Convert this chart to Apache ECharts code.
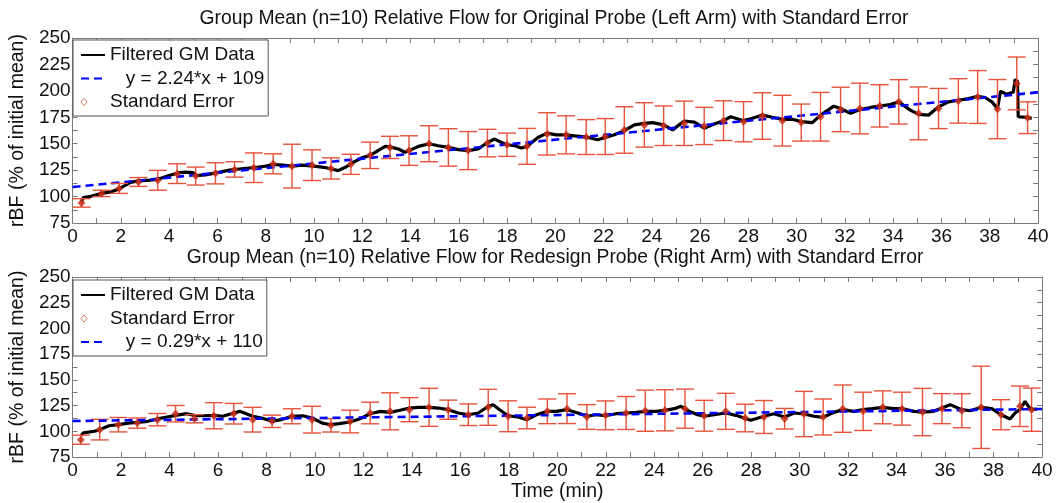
<!DOCTYPE html>
<html>
<head>
<meta charset="utf-8">
<script src="https://cdn.jsdelivr.net/npm/echarts@6/dist/echarts.min.js"></script>
<style>
  html, body { margin: 0; padding: 0; background: #fff; }
  #chart { width: 1061px; height: 503px; }
</style>
</head>
<body>
<div id="chart"></div>
<script>
// ---- top panel: Original Probe (Left Arm) ----
var gmTopT = [0.35, 0.45, 0.8, 1.2, 1.6, 1.9, 2.4, 2.73, 3.2, 3.5, 4.0, 4.4, 4.7, 5.0, 5.1, 5.5, 6.0, 6.5, 7.0, 7.5,
  8.0, 8.3, 8.7, 9.1, 9.5, 10.0, 10.4, 10.7, 11.0, 11.3, 11.6, 11.98, 12.33, 12.67, 12.95, 13.15, 13.5, 13.77, 13.94, 14.33,
  14.77, 15.15, 15.57, 15.98, 16.39, 16.8, 17.19, 17.49, 17.77, 18.0, 18.32, 18.6, 18.83, 19.28, 19.66, 20.04, 20.45, 20.8, 21.28, 21.76,
  22.07, 22.45, 22.86, 23.28, 23.69, 24.03, 24.49, 24.86, 25.34, 25.76, 26.17, 26.58, 26.97, 27.27, 27.8, 28.17, 28.58, 28.99, 29.41, 29.82,
  30.19, 30.65, 30.99, 31.54, 31.82, 32.23, 32.62, 33.06, 33.44, 33.88, 34.23, 34.71, 35.05, 35.47, 35.88, 36.29, 36.7, 37.12, 37.5, 37.81,
  38.09, 38.32, 38.45, 38.7, 38.98, 39.05, 39.15, 39.18, 39.53, 39.74];
var gmTopV = [95, 99, 100.5, 103, 104.5, 107, 113.5, 114.8, 115.6, 116.2, 120, 122.6, 123.2, 122.6, 119.8, 120.5, 122.6, 125, 126.3, 127.3,
  128.8, 130.4, 129.7, 128.8, 129.7, 128.8, 127.7, 126.3, 124.5, 127.7, 132, 136.6, 139, 143.8, 147.5, 147, 145, 141.9, 143.5, 147.5,
  150, 148.1, 146.5, 144.4, 143.5, 145, 151.2, 154.4, 151.2, 149, 148.1, 146, 147.5, 155.9, 160, 158.4, 158.4, 157.5, 156.3, 153.7,
  155.9, 158.4, 162.4, 167.8, 169.3, 169.9, 167.8, 163.1, 171.5, 170.4, 164.7, 168.7, 171.8, 175.5, 171.8, 174, 177.1, 175, 173.1, 173.1,
  170.9, 169.9, 177.1, 185.5, 183.3, 178.7, 182.4, 184.3, 185.5, 187.1, 189.6, 181.8, 177.7, 177.1, 184.9, 189.6, 191.1, 192.7, 194.9, 193.7,
  189.6, 183.3, 199.8, 196.7, 198.9, 210.7, 209, 175.5, 175, 174];
var seTopT = [0.37, 1.2, 1.93, 2.73, 3.53, 4.33, 5.1, 5.92, 6.71, 7.51, 8.31, 9.09, 9.92, 10.71, 11.53, 12.33, 13.15, 13.94, 14.77, 15.57,
  16.39, 17.19, 18.0, 18.83, 19.66, 20.45, 21.28, 22.07, 22.86, 23.69, 24.49, 25.34, 26.17, 26.97, 27.8, 28.58, 29.41, 30.19, 30.99, 31.82,
  32.62, 33.44, 34.23, 35.05, 35.88, 36.7, 37.5, 38.32, 39.12, 39.57];
var seTopMean = [94, 103, 107.7, 113.8, 115.4, 121.7, 119.4, 122, 125.7, 127.3, 131, 128.8, 129.7, 126.6, 130.5, 139, 146.5, 143.5, 150, 146.5,
  143.5, 150.6, 149, 147.5, 159.3, 158.4, 156.3, 156.8, 163, 167.8, 167, 169.3, 166.8, 171.8, 170.8, 176.2, 171.8, 170, 175.5, 182.4,
  183.3, 185.8, 189.6, 178.7, 183.3, 190.5, 194.2, 182.7, 207, 174.6];
var seTopErr = [4, 3, 4.7, 4.2, 9.4, 9.3, 8.5, 10, 7.3, 14, 9.5, 20.7, 14.5, 10, 9.5, 12.5, 10.5, 14, 17, 17.7,
  18, 13, 11, 17, 20, 18, 16.5, 17, 22, 21, 18.7, 21, 17.6, 18.8, 19, 22, 24, 17.5, 23, 21,
  24, 20, 21, 25, 19, 21, 25, 28, 25, 15];
var fitTop = { slope: 2.24, intercept: 109, label: 'y = 2.24*x + 109' };

// ---- bottom panel: Redesign Probe (Right Arm) ----
var gmBotT = [0.35, 0.45, 0.9, 1.12, 1.5, 1.89, 2.3, 2.67, 3.1, 3.5, 3.9, 4.25, 4.7, 5.03, 5.4, 5.83, 6.2, 6.65, 6.9, 7.43,
  7.8, 8.23, 8.6, 9.05, 9.5, 9.88, 10.3, 10.66, 11.0, 11.45, 11.86, 12.28, 12.69, 13.1, 13.51, 13.9, 14.27, 14.71, 15.09, 15.5,
  15.91, 16.33, 16.74, 17.15, 17.35, 17.62, 17.97, 18.38, 18.75, 19.14, 19.59, 19.96, 20.4, 20.85, 21.22, 21.6, 21.99, 22.43, 22.84, 23.25,
  23.63, 24.07, 24.44, 24.83, 25.1, 25.44, 25.79, 26.06, 26.47, 26.95, 27.37, 27.98, 28.53, 28.94, 29.38, 29.77, 30.18, 30.59, 30.97, 31.41,
  31.78, 32.23, 32.62, 32.99, 33.43, 33.88, 34.22, 34.71, 35.07, 35.53, 35.87, 36.21, 36.69, 37.04, 37.49, 37.93, 38.31, 38.68, 38.89, 39.09,
  39.3, 39.44, 39.57, 39.78];
var gmBotV = [96, 98.4, 100, 101.6, 105.4, 106.4, 108, 108.6, 109.7, 112, 113.9, 115.5, 117.1, 115.5, 115.1, 115.5, 114.6, 117.8, 119.4, 114.6,
  112.9, 109.7, 111.3, 114.6, 115.1, 112.9, 108, 106.4, 107.4, 109, 112.2, 117.1, 119.4, 118.4, 120.4, 122.6, 123.3, 123.3, 122.6, 121,
  117.8, 116.1, 117.8, 124.3, 125.9, 121, 115.1, 113.9, 111.3, 116.1, 119.4, 119.4, 121, 117.8, 114.6, 116.1, 115.1, 117.1, 117.8, 118.4,
  119.4, 119.4, 120.4, 122, 124.3, 119.4, 116.1, 114.6, 116.1, 117.8, 115.5, 110.7, 114.6, 117.1, 113.9, 117.8, 116.8, 114.6, 113.6, 118.4,
  121, 119.4, 121, 122, 123.3, 122, 122, 119.4, 118.7, 119.4, 122.6, 125.9, 121, 120, 123.3, 122, 116.1, 112, 117.8, 121,
  129.1, 124.3, 121, 121.5];
var seBotT = [0.34, 1.12, 1.89, 2.67, 3.5, 4.25, 5.03, 5.83, 6.65, 7.43, 8.23, 9.05, 9.88, 10.66, 11.45, 12.28, 13.1, 13.9, 14.71, 15.5,
  16.33, 17.15, 17.97, 18.75, 19.59, 20.4, 21.22, 21.99, 22.84, 23.63, 24.44, 25.27, 26.06, 26.95, 27.75, 28.53, 29.38, 30.18, 30.97, 31.78,
  32.62, 33.43, 34.22, 35.07, 35.87, 36.69, 37.49, 38.31, 39.09, 39.57];
var seBotMean = [91.8, 101.6, 106.4, 108, 111.3, 117.1, 112.2, 115.1, 117.1, 111.3, 109.7, 114.6, 111.3, 105.8, 109.5, 117.8, 119.4, 121, 123.3, 121,
  116.1, 123.3, 114.6, 112.9, 119.4, 122, 113.9, 115.5, 117.8, 120, 120.4, 122, 115.1, 119.4, 112.9, 113.9, 112.2, 116.8, 113.9, 122,
  119.4, 123.3, 122, 118.7, 122, 120, 123.3, 116.1, 124.3, 121];
var seBotErr = [4.4, 10, 7, 5, 6, 8, 4, 12.7, 10, 12, 6, 7.3, 13, 6.5, 11, 10.5, 18, 11.7, 18.5, 9.3,
  10.5, 17.5, 15, 10.5, 12, 14.5, 12, 14, 16, 20, 20, 19, 15, 17.5, 13.4, 16, 10, 22, 17.5, 23,
  18.6, 16, 16, 23, 14.6, 16.5, 40, 14.6, 19.7, 21];
var fitBot = { slope: 0.29, intercept: 110, label: 'y = 0.29*x + 110' };

var titles = [
  'Group Mean (n=10) Relative Flow for Original Probe (Left Arm) with Standard Error',
  'Group Mean (n=10) Relative Flow for Redesign Probe (Right Arm) with Standard Error'
];
var xTicks = { min: 0, max: 40, step: 2 };
var yTicks = { min: 75, max: 250, step: 25 };

var FONT = '"Liberation Sans", Arial, sans-serif';
var FRAME = '#7a7a7a';
var ERR = '#e6523a';
// small open diamond at the left of the legend key area (the trailing point only widens the box)
var SE_ICON = 'path://M0,4L3,0.4L6,4L3,7.6ZM24,4L24,4.01';

function pairs(t, v) { return t.map(function (x, i) { return [x, v[i]]; }); }
function seRows(t, m, e) { return t.map(function (x, i) { return [x, m[i], e[i]]; }); }
function fitLine(f) { return [[xTicks.min, f.intercept], [xTicks.max, f.intercept + f.slope * xTicks.max]]; }

function errRender(params, api) {
  var x = api.value(0), m = api.value(1), e = api.value(2);
  var hi = api.coord([x, m + e]), lo = api.coord([x, m - e]);
  var w = 9;
  var st = { stroke: ERR, lineWidth: 1.4 };
  return { type: 'group', children: [
    { type: 'line', shape: { x1: hi[0], y1: hi[1], x2: lo[0], y2: lo[1] }, style: st },
    { type: 'line', shape: { x1: hi[0] - w, y1: hi[1], x2: hi[0] + w, y2: hi[1] }, style: st },
    { type: 'line', shape: { x1: lo[0] - w, y1: lo[1], x2: lo[0] + w, y2: lo[1] }, style: st }
  ]};
}

function xAxis(grid, pos, labels, name) {
  return {
    type: 'value', gridIndex: grid, position: pos, min: xTicks.min, max: xTicks.max, interval: xTicks.step,
    name: name || '', nameLocation: 'middle', nameGap: 25,
    nameTextStyle: { fontSize: 19.5, fontFamily: FONT, color: '#111' },
    axisLine: { show: true, onZero: false, lineStyle: { color: FRAME, width: 1 } },
    axisTick: { show: true, inside: true, length: 5, lineStyle: { color: FRAME } },
    minorTick: { show: true, splitNumber: 2, length: 5, lineStyle: { color: FRAME } },
    axisLabel: { show: labels, color: '#111', fontSize: 19, fontFamily: FONT, margin: 4 },
    splitLine: { show: false }
  };
}
function yAxis(grid, pos, labels) {
  return {
    type: 'value', gridIndex: grid, position: pos, min: yTicks.min, max: yTicks.max, interval: yTicks.step,
    name: labels ? 'rBF (% of initial mean)' : '', nameLocation: 'middle', nameGap: 36,
    nameTextStyle: { fontSize: 19.5, fontFamily: FONT, color: '#111' },
    axisLine: { show: true, onZero: false, lineStyle: { color: FRAME, width: 1 } },
    axisTick: { show: true, inside: true, length: 5, lineStyle: { color: FRAME } },
    minorTick: { show: true, splitNumber: 2, length: 5, lineStyle: { color: FRAME } },
    axisLabel: { show: labels, color: '#111', fontSize: 19, fontFamily: FONT, margin: 2 },
    splitLine: { show: false }
  };
}

function legendBox(top, names) {
  return {
    left: 73, top: top, orient: 'vertical',
    backgroundColor: '#fff', borderColor: '#555', borderWidth: 1, borderRadius: 0,
    padding: [5, 4, 4, 7], itemGap: 3.5, itemWidth: 24, itemHeight: 8,
    textStyle: { fontSize: 19, fontFamily: FONT, color: '#111', lineHeight: 20 },
    formatter: function (n) { return n.charAt(0) === 'y' ? '   ' + n : n; },
    data: names.map(function (n) {
      return n === 'Standard Error'
        ? { name: n, icon: SE_ICON, itemStyle: { color: '#fff', borderColor: '#c8603f', borderWidth: 1 } }
        : { name: n, itemStyle: { opacity: 0 } };
    })
  };
}

function panelSeries(k, gmT, gmV, seT, seM, seE, fit, fitOnTop) {
  return [
    { name: 'Filtered GM Data', type: 'line', xAxisIndex: 2 * k, yAxisIndex: 2 * k, data: pairs(gmT, gmV),
      symbol: 'none', lineStyle: { color: '#000', width: 3.2 }, itemStyle: { color: '#000' }, z: 2 },
    { name: 'se' + k, type: 'custom', xAxisIndex: 2 * k, yAxisIndex: 2 * k, data: seRows(seT, seM, seE),
      renderItem: errRender, encode: { x: 0, y: 1 }, z: 6 },
    { name: 'Standard Error', type: 'scatter', xAxisIndex: 2 * k, yAxisIndex: 2 * k, data: pairs(seT, seM),
      symbol: 'diamond', symbolSize: 8, itemStyle: { color: '#c42a14' }, z: 10 },
    { name: fit.label, type: 'line', xAxisIndex: 2 * k, yAxisIndex: 2 * k, data: fitLine(fit),
      symbol: 'none', lineStyle: { color: '#0000ff', width: 2.6, type: [8, 5] }, itemStyle: { color: '#0000ff' },
      z: fitOnTop ? 8 : 4 }
  ];
}

var chart = echarts.init(document.getElementById('chart'), null, { renderer: 'canvas' });
chart.setOption({
  backgroundColor: '#fff',
  animation: false,
  title: [
    { text: titles[0], left: 549, textAlign: 'center', top: 4, textStyle: { fontSize: 19.3, fontWeight: 'normal', fontFamily: FONT, color: '#111' } },
    { text: titles[1], left: 550, textAlign: 'center', top: 243, textStyle: { fontSize: 19.3, fontWeight: 'normal', fontFamily: FONT, color: '#111' } }
  ],
  legend: [
    legendBox(40, ['Filtered GM Data', fitTop.label, 'Standard Error']),
    legendBox(280, ['Filtered GM Data', 'Standard Error', fitBot.label])
  ],
  grid: [
    { left: 70, top: 38, width: 968, height: 185 },
    { left: 70, top: 277, width: 972, height: 183 }
  ],
  xAxis: [
    xAxis(0, 'bottom', true), xAxis(0, 'top', false),
    xAxis(1, 'bottom', true, 'Time (min)'), xAxis(1, 'top', false)
  ],
  yAxis: [
    yAxis(0, 'left', true), yAxis(0, 'right', false),
    yAxis(1, 'left', true), yAxis(1, 'right', false)
  ],
  series: panelSeries(0, gmTopT, gmTopV, seTopT, seTopMean, seTopErr, fitTop, false)
    .concat(panelSeries(1, gmBotT, gmBotV, seBotT, seBotMean, seBotErr, fitBot, true))
});
</script>
</body>
</html>
